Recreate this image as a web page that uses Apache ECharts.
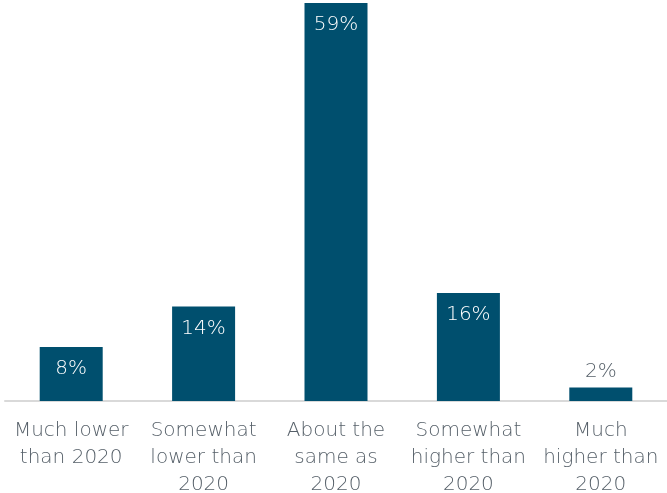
<!DOCTYPE html>
<html><head><meta charset="utf-8">
<script src="https://cdn.jsdelivr.net/npm/echarts@6/dist/echarts.min.js"></script>
<style>html,body{margin:0;padding:0;background:#fff}#c{width:667px;height:493px}</style>
</head><body><div id="c"></div>
<script>
const categories = ["Much lower\nthan 2020", "Somewhat\nlower than\n2020", "About the\nsame as\n2020", "Somewhat\nhigher than\n2020", "Much\nhigher than\n2020"];
const values = [8, 14, 59, 16, 2];
const outsideLabel = [false, false, false, false, true];

const FONT = "DejaVu Sans";
const chart = echarts.init(document.getElementById('c'));
chart.setOption({
  animation: false,
  grid: {left: 5, right: 0, top: 3, bottom: 92, containLabel: false, outerBoundsMode: 'none'},
  xAxis: {
    type: 'category', data: categories,
    axisLine: {lineStyle: {color: '#d9d9d9', width: 2}},
    axisTick: {show: false},
    axisLabel: {color: '#555f68', fontSize: 20, fontFamily: FONT, fontWeight: 200, lineHeight: 27, margin: 16, interval: 0}
  },
  yAxis: {type: 'value', min: 0, max: 59, show: false, splitLine: {show: false}},
  series: [{
    type: 'bar', barWidth: 63,
    itemStyle: {color: '#004f6e'},
    data: values.map((v, i) => ({
      value: v,
      label: outsideLabel[i]
        ? {show: true, position: 'top', distance: 6, color: '#555f68'}
        : {show: true, position: 'insideTop', distance: 12, color: '#ffffff'}
    })),
    label: {show: true, formatter: '{c}%', fontSize: 20, fontFamily: FONT, fontWeight: 200}
  }]
});
</script></body></html>
